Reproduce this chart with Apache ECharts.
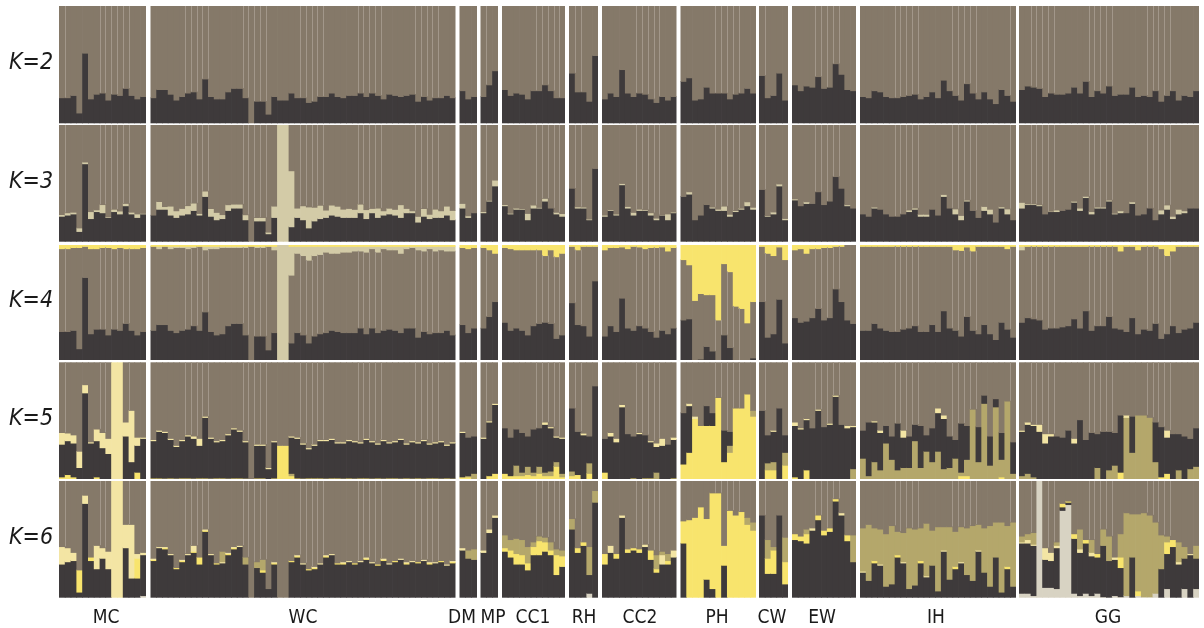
<!DOCTYPE html>
<html><head><meta charset="utf-8">
<script src="https://cdn.jsdelivr.net/npm/echarts@6/dist/echarts.min.js"></script>
<style>html,body{margin:0;padding:0;background:#fff}#c{width:1204px;height:628px}</style>
</head><body><div id="c"></div><script>
// ---------------- DATA ----------------
const populations = ['MC','WC','DM','MP','CC1','RH','CC2','PH','CW','EW','IH','GG'];
const popSizes    = [15, 53, 3, 3, 11, 5, 13, 13, 5, 11, 27, 31];
const kLabels     = ['K=2','K=3','K=4','K=5','K=6'];

// thin light separator lines (boundary after n individuals inside each population)
const separators = [
  [1,7,8,9,10,11,12],
  [6,7,8,9,10,16,17,18,19,20,26,27,28,29,30,36,37,38,39,40,46,47,48,49,50],
  [], [1], [6,7,8,9,10], [1,2], [6,7,8,9,10], [6,7,8,9,10], [1], [4,5,6,7,8],
  [6,7,8,9,10,16,17,18,19,20,26],
  [2,3,4,5,6,12,13,14,15,16,22,23,24,25,26]
];

// K=2
const k2Dark = [
 .22,.22,.24,.09,.60,.21,.25,.26,.20,.25,.24,.30,.24,.21,.23,
 .22,.29,.29,.25,.20,.23,.26,.27,.21,.38,.23,.21,.21,.27,.30,.30,.22,0,.19,.19,.08,.23,.20,.20,.26,.22,.22,.18,.19,.23,.23,.26,.23,.22,.24,.24,.26,.23,.26,.24,.21,.25,.24,.23,.24,.25,.19,.23,.20,.22,.22,.24,.22,
 .28,.21,.23,
 .23,.33,.45,
 .29,.24,.26,.25,.21,.28,.28,.33,.28,.22,.22,
 .43,.27,.27,.19,.58,
 .21,.26,.23,.46,.26,.23,.26,.25,.21,.18,.23,.20,.23,
 .36,.39,.20,.21,.31,.26,.26,.26,.21,.25,.26,.30,.26,
 .41,.22,.24,.43,.20,
 .33,.28,.32,.31,.40,.30,.31,.51,.42,.29,.28,
 .23,.22,.28,.27,.23,.22,.22,.23,.24,.25,.21,.23,.27,.22,.37,.28,.24,.20,.34,.26,.21,.27,.21,.17,.29,.24,.19,
 .29,.32,.31,.30,.23,.26,.25,.25,.26,.31,.26,.36,.23,.28,.26,.32,.24,.25,.25,.31,.23,.24,.23,.28,.19,.24,.28,.20,.24,.23,.28
];

// K=3
const k3Dark = [
 .22,.23,.24,.09,.67,.20,.26,.25,.21,.26,.24,.31,.24,.21,.24,
 .23,.28,.28,.23,.21,.23,.24,.27,.23,.39,.22,.19,.20,.27,.29,.29,.19,0,.18,.18,.07,.21,0,0,.13,.21,.19,.12,.18,.20,.21,.23,.22,.21,.21,.21,.25,.20,.25,.21,.23,.24,.23,.21,.25,.25,.17,.22,.20,.21,.21,.23,.19,
 .29,.21,.25,
 .25,.35,.48,
 .31,.24,.28,.28,.19,.29,.29,.35,.29,.24,.22,
 .46,.29,.29,.19,.63,
 .22,.27,.23,.49,.29,.23,.27,.27,.23,.19,.23,.19,.25,
 .39,.41,.19,.23,.32,.29,.27,.27,.22,.26,.28,.31,.28,
 .45,.22,.24,.48,.19,
 .36,.31,.33,.33,.43,.32,.35,.56,.46,.31,.29,
 .24,.22,.29,.28,.24,.22,.22,.24,.26,.28,.22,.22,.28,.23,.39,.29,.24,.19,.35,.27,.21,.27,.24,.17,.29,.24,.19,
 .29,.32,.32,.31,.24,.26,.26,.27,.28,.34,.27,.38,.24,.29,.29,.35,.24,.25,.25,.33,.23,.24,.29,.19,.24,.28,.20,.24,.25,.29,.29
];
const k3Beige = [
 .015,.02,.015,.03,.015,.06,.015,.07,.005,.02,.025,.02,.015,.03,.005,
 0,.066,.023,.077,.057,.057,.071,.063,.014,.046,.066,.063,.034,.049,.034,.034,.043,0,.029,.029,.014,.097,1,1,.48,.08,.12,.18,.117,.114,.063,.086,.086,.071,.077,.069,.074,.077,.037,.08,.037,.049,.049,.109,.037,.017,.049,.066,.037,.071,.057,.077,.08,
 .04,.014,0,
 .01,.006,.05,
 .01,.006,.01,.006,.054,.026,.006,.023,0,.014,.023,
 0,.011,.009,.006,0,
 .01,.006,.009,.011,.014,.023,.011,.006,.02,.014,.003,.05,.006,
 0,.02,0,0,0,.009,.011,.037,.017,.009,.009,.034,.017,
 0,.006,.017,.017,.011,
 .009,0,.014,0,0,0,0,0,0,.009,0,
 0,0,.009,0,0,0,0,0,.014,.011,.017,.017,0,0,.017,0,.043,.037,.009,0,0,.034,.04,0,.011,.043,0,
 .049,.006,.006,.009,0,.003,.014,0,0,.009,.02,.011,.02,.009,.009,.009,.006,.017,0,.014,0,0,0,0,.034,.037,.02,.04,.017,0,0
];

// K=4
const k4Dark = [
 .25,.25,.26,.10,.72,.23,.27,.27,.22,.27,.26,.32,.26,.22,.25,
 .26,.31,.31,.26,.24,.26,.27,.30,.26,.42,.25,.22,.23,.30,.32,.32,.22,0,.21,.21,.09,.24,0,0,.15,.24,.22,.15,.21,.23,.24,.26,.25,.24,.24,.24,.28,.23,.28,.24,.26,.27,.26,.24,.28,.28,.20,.25,.23,.24,.24,.26,.22,
 .31,.24,.28,
 .28,.38,.51,
 .33,.26,.28,.26,.22,.30,.32,.33,.32,.19,.22,
 .50,.31,.30,.21,.69,
 .21,.30,.25,.54,.28,.26,.30,.28,.25,.20,.26,.23,.28,
 .35,.36,0,.01,.12,.08,0,.22,.11,0,0,0,.02,
 .51,.20,.23,.53,.15,
 .37,.33,.34,.37,.45,.35,.37,.62,.51,.35,.32,
 .26,.26,.32,.28,.26,.25,.25,.27,.28,.30,.25,.25,.31,.25,.43,.28,.26,.21,.38,.26,.23,.31,.23,.18,.33,.27,.20,
 .33,.37,.36,.35,.27,.28,.28,.29,.30,.36,.28,.43,.26,.30,.30,.38,.28,.27,.25,.37,.23,.27,.26,.32,.19,.23,.30,.24,.27,.28,.33
];
const k4Beige = [
 0,0,0,0,0,0,0,0,0,0,0,0,0,0,0,
 0,.02,0,.02,.01,.01,.02,.01,0,.03,.02,.02,.01,.01,.01,.01,.01,0,.01,.01,0,.03,1,1,.25,.06,.08,.12,.08,.07,.05,.06,.06,.05,.05,.04,.04,.05,.02,.05,.02,.03,.03,.06,.02,.01,.03,.04,.02,.04,.03,.04,.04,
 0,0,0,
 0,0,0,
 0,0,0,0,0,0,0,0,0,0,0,
 0,0,0,0,0,
 0,0,0,0,0,0,0,0,0,0,0,0,0,
 0,0,0,0,0,0,0,0,0,0,0,0,0,
 0,0,0,0,0,
 0,0,0,0,0,0,0,0,0,0,0,
 0,0,0,0,0,0,0,0,0,0,0,0,0,0,0,0,0,0,0,0,0,0,0,0,0,0,0,
 .03,0,0,0,0,0,0,0,0,0,0,0,0,0,0,0,0,0,0,0,0,0,0,0,0,0,0,0,0,0,0
];
const k4Yellow = [
 .03,.03,.02,.02,.01,.03,.03,.02,.02,.03,.02,.03,.03,.03,.02,
 .01,.01,.01,.01,.01,.01,.01,.01,.01,.01,.01,.01,.01,.01,.01,.01,.01,.01,.01,.01,.01,.01,0,0,.01,.01,.01,.01,.01,.01,.01,.01,.01,.01,.01,.01,.01,.01,.01,.01,.01,.01,.01,.01,.01,.01,.01,.01,.01,.01,.01,.01,.01,
 .02,.03,.02,
 .02,.04,.07,
 .02,.03,.04,.04,.04,.04,.04,.09,.04,.10,.07,
 .01,.04,.01,.01,.01,
 .04,.02,.02,.015,.03,.01,.015,.03,.02,.02,.015,.05,.02,
 .125,.17,.48,.42,.43,.43,.65,.16,.23,.53,.55,.675,.49,
 .01,.07,.09,.015,.125,
 .04,.03,.07,.03,.03,.02,.02,.01,.01,0,0,
 .01,.01,.01,.01,.01,.01,.01,.01,.01,.01,.01,.01,.01,.01,.01,.01,.04,.045,.015,.05,.01,.01,.01,.01,.01,.03,.01,
 .01,.01,.01,.01,.01,.01,.01,.01,.01,.01,.01,.01,.01,.01,.01,.01,.01,.05,.01,.01,.04,.01,.01,.01,.03,.09,.05,.01,.01,.01,.01
];

// K=5
const k5Yellow = [
 .02,.04,.02,0,0,0,.02,0,0,0,0,0,0,.06,0,
 .01,.01,0,.01,0,.01,.01,0,.01,.01,0,.01,.01,0,.01,.01,0,0,.01,.01,0,.01,.29,.29,.03,.01,0,.01,.01,.01,0,.01,.01,0,.01,0,.01,.01,0,.01,0,.01,.01,0,.01,0,.01,0,.01,.01,0,.01,0,
 .02,.02,0,
 0,.03,.05,
 .05,.03,.03,.03,.04,.03,.05,.03,.03,.11,.02,
 .03,.04,0,.05,0,
 .06,0,0,0,0,.01,0,.01,.01,0,0,0,.01,
 .13,.23,.52,.46,.46,.46,.70,.15,.23,.61,.61,.73,.54,
 0,.08,.08,0,.12,
 .02,0,.08,0,0,0,0,0,0,0,0,
 0,0,0,0,0,0,0,0,0,0,0,0,0,0,0,0,0,.03,.03,0,0,0,0,0,.02,0,0,
 0,0,0,0,0,0,0,0,0,0,0,0,0,0,0,0,0,.06,0,0,0,0,0,0,.02,.05,0,0,0,0,0
];
const k5Olive = [
 0,0,0,0,0,0,0,0,0,0,0,0,0,0,0,
 0,0,.01,0,.01,0,0,.01,0,0,.01,0,0,.01,0,0,.01,0,0,0,0,0,0,0,.02,0,.01,0,0,0,.01,0,0,.01,0,.01,0,0,.01,0,.01,0,0,.01,0,.01,0,.01,0,0,.01,0,.01,
 0,.01,.05,
 0,0,0,
 0,0,.09,.03,.07,.03,.06,.03,.04,.04,.03,
 .04,0,0,.09,0,
 0,0,0,0,0,0,0,0,0,.06,0,0,0,
 0,0,0,0,0,0,0,0,.06,0,0,0,.05,
 0,.06,.07,0,.11,
 0,0,0,0,0,0,0,0,0,0,.09,
 .18,.03,.15,.08,.31,.17,.08,.10,.10,.33,.10,.24,.15,.24,.09,.10,.18,.03,.14,.60,.15,.65,.12,.62,.15,.67,.05,
 .03,.05,.02,0,0,0,0,0,0,0,0,0,0,.10,0,.08,.12,0,.53,.23,.55,.55,.53,.15,0,0,0,.08,0,.09,.11
];
const k5Dark = [
 .28,.29,.29,.10,.74,.31,.31,.27,.22,0,0,.37,.15,.23,.35,
 .32,.40,.39,.33,.27,.32,.36,.34,.28,.52,.34,.31,.32,.37,.42,.40,.31,0,.28,.28,.09,.31,0,0,.31,.34,.29,.25,.28,.32,.32,.33,.30,.30,.32,.31,.30,.33,.31,.29,.32,.30,.31,.33,.29,.31,.30,.32,.29,.30,.31,.28,.30,
 .38,.33,.32,
 .35,.46,.59,
 .39,.33,.31,.34,.26,.37,.33,.41,.37,.21,.30,
 .54,.37,.38,.23,.80,
 .29,.37,.32,.62,.39,.36,.39,.37,.31,.22,.29,.30,.33,
 .44,.40,0,0,.17,.11,0,.27,.12,0,0,0,0,
 .59,.24,.26,.61,.15,
 .44,.43,.43,.44,.59,.45,.47,.71,.47,.44,.36,
 .24,.46,.34,.32,.15,.20,.40,.26,.27,.14,.36,.14,.29,.33,.43,.27,.16,.42,.29,0,.30,.07,.25,.07,.23,0,.27,
 .38,.42,.44,.41,.31,.37,.37,.36,.42,.31,.51,.34,.40,.29,.41,.33,.28,.49,0,.31,0,0,0,.34,.43,.31,.39,.31,.37,.26,.33
];
const k5Pale = [
 .10,.066,.07,.14,.07,.01,.10,.13,.13,1,1,.12,.44,.07,.01,
 .01,.01,.01,.01,.01,.01,.01,.02,.06,.01,.01,.01,.01,.01,.01,.01,.01,0,.01,.01,.01,.01,0,0,.01,.01,.01,.01,.01,.01,.01,.01,.01,.01,.01,.01,.01,.01,.01,.01,.01,.01,.01,.01,.01,.01,.01,.01,.01,.01,.01,.01,.01,
 .01,0,0,
 .01,.01,.01,
 0,0,0,0,0,0,0,.02,.01,.01,.01,
 0,0,.015,0,0,
 0,.03,.03,.02,0,0,.01,0,.01,.03,.06,0,.02,
 0,.02,.02,0,0,0,0,0,0,0,0,0,0,
 0,0,.01,0,0,
 .03,.01,.01,0,.01,0,.01,.01,0,.02,.01,
 0,0,.01,.02,0,0,0,.06,0,0,0,0,0,.04,.03,0,0,0,0,0,0,0,0,0,0,0,0,
 .01,.02,.01,.06,.08,.02,0,0,0,.04,0,0,0,0,0,0,0,0,.02,0,0,0,0,0,0,.06,0,0,0,0,0
];

// K=6
const k6Gray = [
 0,0,0,0,0,0,0,0,0,0,0,0,0,0,.02,
 0,0,0,0,0,0,0,0,0,0,0,0,0,0,0,0,0,0,0,0,0,0,0,0,0,0,0,0,0,0,0,0,0,0,0,0,0,0,0,0,0,0,0,0,0,0,0,0,0,0,0,0,0,
 0,0,0,
 0,0,0,
 0,0,0,0,0,0,0,0,0,0,0,
 0,0,0,.04,0,
 0,0,0,0,0,0,0,0,0,0,0,0,0,
 0,0,0,0,0,0,0,0,0,0,0,0,0,
 0,0,0,0,0,
 0,0,0,0,0,0,0,0,0,0,0,
 0,0,0,0,0,0,0,0,0,0,0,0,0,0,0,0,0,0,0,0,0,0,0,0,0,0,0,
 .04,.04,.02,1,.09,.09,.08,.75,.80,.04,.02,.04,.02,.04,.01,0,.02,.01,.02,0,.02,.01,.01,.04,0,.08,0,0,.08,0,.08
];
const k6Dark = [
 .29,.31,.32,.05,.81,.32,.25,.34,.25,0,0,.43,.17,.17,.35,
 .32,.43,.42,.37,.25,.31,.37,.39,.29,.57,.37,.29,.30,.37,.42,.44,.29,0,.26,.22,.08,.29,0,0,.31,.35,.29,.24,.25,.29,.35,.37,.29,.29,.31,.29,.31,.33,.30,.28,.32,.29,.31,.33,.29,.31,.30,.32,.29,.30,.31,.28,.30,
 .41,.34,.33,
 .39,.56,.69,
 .40,.35,.29,.29,.24,.37,.37,.40,.37,.20,.27,
 .59,.39,.45,.16,.82,
 .29,.39,.34,.69,.39,.41,.39,.44,.33,.22,.29,.29,.35,
 .47,0,0,0,.16,.08,0,.28,0,0,0,0,0,
 .71,.21,.21,.71,.12,
 .50,.49,.47,.58,.67,.54,.57,.83,.71,.49,.31,
 .22,.15,.30,.28,.10,.12,.35,.30,.08,.11,.30,.18,.28,.06,.40,.16,.25,.30,.20,.15,.40,.22,.10,.35,.05,.25,.10,
 .43,.43,.43,0,.24,.23,.35,.03,.02,.47,.37,.43,.34,.31,.44,.32,.31,.25,0,.35,0,0,0,0,.25,.30,.44,.29,.26,.37,.26
];
const k6Yellow = [
 0,0,0,.19,0,.03,0,0,0,0,0,0,0,.17,0,
 .01,0,.01,0,.01,.01,0,.01,.06,.01,0,.01,0,.01,.01,0,0,0,0,.02,0,.01,0,0,.01,.01,0,.01,.01,0,.01,0,.01,.01,0,.01,0,.01,0,.01,.01,0,.01,0,.01,0,.01,0,.01,0,.01,0,.01,
 0,0,0,
 0,0,0,
 .03,.06,.09,.08,.06,.07,.12,.08,.04,.17,.09,
 0,.04,.03,0,0,
 .09,0,.04,0,.03,.02,.03,0,.08,.03,0,.03,0,
 .19,.67,.69,.78,.52,.82,.90,.17,.75,.71,.74,.63,.58,
 0,.13,.20,0,.19,
 .05,.04,.08,0,.04,.04,.03,.02,0,.05,0,
 0,0,.02,0,0,0,.02,0,0,0,.02,0,0,0,0,0,.02,0,0,0,0,0,0,0,0,.02,0,
 0,0,0,0,0,0,0,.03,.01,.04,0,.03,0,.03,0,0,0,.09,0,0,.04,0,0,0,0,.10,.06,0,0,0,0
];
const k6Pale = [
 .15,.12,.07,0,.07,0,.20,.09,.15,1,1,.20,.46,.04,.02,
 .01,.01,.01,.01,0,.01,.01,.05,0,.01,.01,0,.01,.01,.01,.01,0,0,0,0,0,.01,0,0,0,.01,.01,0,.01,.01,.01,.01,0,.01,.01,0,.01,.01,.01,0,.01,.01,0,.01,.01,.01,0,.01,.01,.01,0,.01,.01,
 .02,0,0,
 .02,.03,.02,
 0,0,0,0,0,0,0,0,0,0,0,
 0,0,0,0,0,
 0,.06,0,.02,0,0,0,.02,0,0,.08,0,.06,
 0,0,0,0,0,0,0,0,0,0,0,0,0,
 0,0,0,0,0,
 0,0,0,.02,0,0,0,0,.02,0,0,
 .01,0,0,.01,0,0,0,.01,0,0,0,.01,0,0,.01,0,0,.01,0,0,.01,0,0,0,0,0,0,
 .01,.03,.01,0,.10,.07,.02,0,0,0,.03,0,.03,0,0,0,.02,0,0,0,0,0,0,0,0,0,0,.02,0,.01,0
];
const k6Olive = [
 0,0,0,0,0,0,0,0,0,0,0,0,0,0,0,
 0,0,0,0,0,0,0,0,0,0,0,0,.09,0,0,0,.06,0,.05,.09,0,0,0,0,0,0,0,0,0,0,0,0,0,0,0,0,0,0,0,0,0,0,0,0,0,0,0,0,0,0,0,0,0,
 0,.07,.09,
 0,0,0,
 .11,.09,.13,.13,.14,.04,.04,.04,.07,.05,.05,
 .09,0,0,.24,.10,
 0,0,0,0,0,0,0,0,0,.12,.03,.06,0,
 0,0,0,0,0,0,0,0,0,0,0,.06,.07,
 0,.16,.03,0,.21,
 0,0,.04,0,0,0,0,0,0,0,.23,
 .37,.48,.28,.30,.45,.50,.20,.25,.52,.48,.28,.45,.30,.55,.20,.45,.30,.30,.40,.47,.22,.38,.52,.30,.60,.35,.55,
 .05,.05,.10,0,0,0,.03,0,0,0,.17,0,.11,0,.14,.21,0,.20,.71,.37,.66,.72,.70,.61,.29,.05,0,.17,.10,0,.11
];

// ---------------- STYLE / LAYOUT ----------------
const COLORS = {
  dark:'#3e3a3b', brown:'#857969', beige:'#d3cba7', yellow:'#f8e46d',
  pale:'#f3e5a4', olive:'#b4a76b', gray:'#d8d3c3'
};
const SEP_COLOR = '#a2978a';
const panelX = [[59,87],[150.5,305],[459.5,17.5],[480.5,17.5],[502,63],[569,29],[602,74.5],[680.5,75.5],[759,29],[792,64],[860,156],[1019,180]];
const rowY = [[6,117.3],[125,116.7],[245,115],[362.3,116.7],[481,116.7]];
const popLabelX = [106,303,462,493,533,584,640,717,772,822,936,1108];
const FONT = "'Liberation Sans Narrow','DejaVu Sans Condensed','Liberation Sans',sans-serif";

// layer order bottom -> top; null = remainder (brown)
const rows = [
  [['dark',k2Dark],['brown',null]],
  [['dark',k3Dark],['beige',k3Beige],['brown',null]],
  [['dark',k4Dark],['brown',null],['beige',k4Beige],['yellow',k4Yellow]],
  [['yellow',k5Yellow],['olive',k5Olive],['dark',k5Dark],['pale',k5Pale],['brown',null]],
  [['gray',k6Gray],['dark',k6Dark],['yellow',k6Yellow],['pale',k6Pale],['olive',k6Olive],['brown',null]]
];

// ---------------- BUILD ----------------
const chart = echarts.init(document.getElementById('c'), null, {renderer:'canvas'});
const grid=[], xAxis=[], yAxis=[], series=[];
let gi = 0;
rows.forEach((layers, r) => {
  let start = 0;
  const colors = layers.map(l => COLORS[l[0]]);
  const L = layers.length;
  popSizes.forEach((n, p) => {
    grid.push({left:panelX[p][0], top:rowY[r][0], width:panelX[p][1], height:rowY[r][1]});
    xAxis.push({type:'category', gridIndex:gi, data:Array.from({length:n},(_,i)=>i), show:false});
    yAxis.push({type:'value', gridIndex:gi, min:0, max:1, show:false});
    const bi = layers.findIndex(l => l[1] === null);
    const table = [];   // [index, layer0, layer1, ...]
    const lo=[], hi=[];
    for (let i=0;i<n;i++){
      const v = layers.map(([name,arr]) => arr ? +(arr[start+i]||0) : 0);
      let s = 0; v.forEach((x,j)=>{ if(j!==bi) s+=x; });
      if (s>1){ v.forEach((x,j)=>{ if(j!==bi) v[j]=x/s; }); s=1; }
      v[bi] = Math.max(0, 1-s);
      let c=0; for(let j=0;j<bi;j++) c+=v[j];
      lo.push(c); hi.push(c+v[bi]);
      table.push([i].concat(v));
    }
    series.push({
      type:'custom', xAxisIndex:gi, yAxisIndex:gi, data:table, silent:true, animation:false,
      encode:{x:0, y:1},
      renderItem:(params, api) => {
        const i = api.value(0);
        const w = api.size([1,0])[0];
        const cx = api.coord([i,0])[0];
        const x0 = cx - w/2, x1 = cx + w/2 + (i < n-1 ? 0.7 : 0);
        let cum = 0; const children = [];
        for (let j=0;j<L;j++){
          const val = api.value(j+1);
          if (!(val > 0.0005)) continue;
          const yb = api.coord([i, cum])[1];
          const ext = cum > 0 ? 0.7 : 0;
          cum += val;
          const yt = api.coord([i, Math.min(cum,1)])[1];
          children.push({type:'rect', shape:{x:x0, y:yt, width:x1-x0, height:(yb-yt)+ext}, style:{fill:colors[j]}});
        }
        return {type:'group', children};
      }
    });
    const sepData = separators[p].filter(b=>b<n).map(b => [b-1, Math.max(lo[b-1],lo[b]), Math.min(hi[b-1],hi[b])]).filter(d=>d[2]-d[1]>0.01);
    if (sepData.length){
      series.push({
        type:'custom', xAxisIndex:gi, yAxisIndex:gi, data:sepData, silent:true, animation:false, z:5,
        encode:{x:0, y:1},
        renderItem:(params, api) => {
          const i = api.value(0);
          const a = api.coord([i, api.value(1)]), b = api.coord([i, api.value(2)]);
          const w = api.size([1,0])[0];
          const x = Math.round(a[0] + w/2) + 0.5;
          return {type:'line', shape:{x1:x,y1:a[1],x2:x,y2:b[1]}, style:{stroke:SEP_COLOR, lineWidth:1}};
        }
      });
    }
    start += n; gi++;
  });
});

const graphic = [];
kLabels.forEach((t, r) => {
  graphic.push({type:'text', left:9, top:rowY[r][0]+rowY[r][1]/2-13,
    style:{text:t, font:"italic 23px "+FONT, fill:'#1a1a1a'}});
});
populations.forEach((t,p) => {
  graphic.push({type:'text', x:popLabelX[p], y:618,
    style:{text:t, font:"19px "+FONT, fill:'#1a1a1a', textAlign:'center', textVerticalAlign:'middle'}});
});

chart.setOption({animation:false, backgroundColor:'#ffffff', grid, xAxis, yAxis, series, graphic});
</script></body></html>
